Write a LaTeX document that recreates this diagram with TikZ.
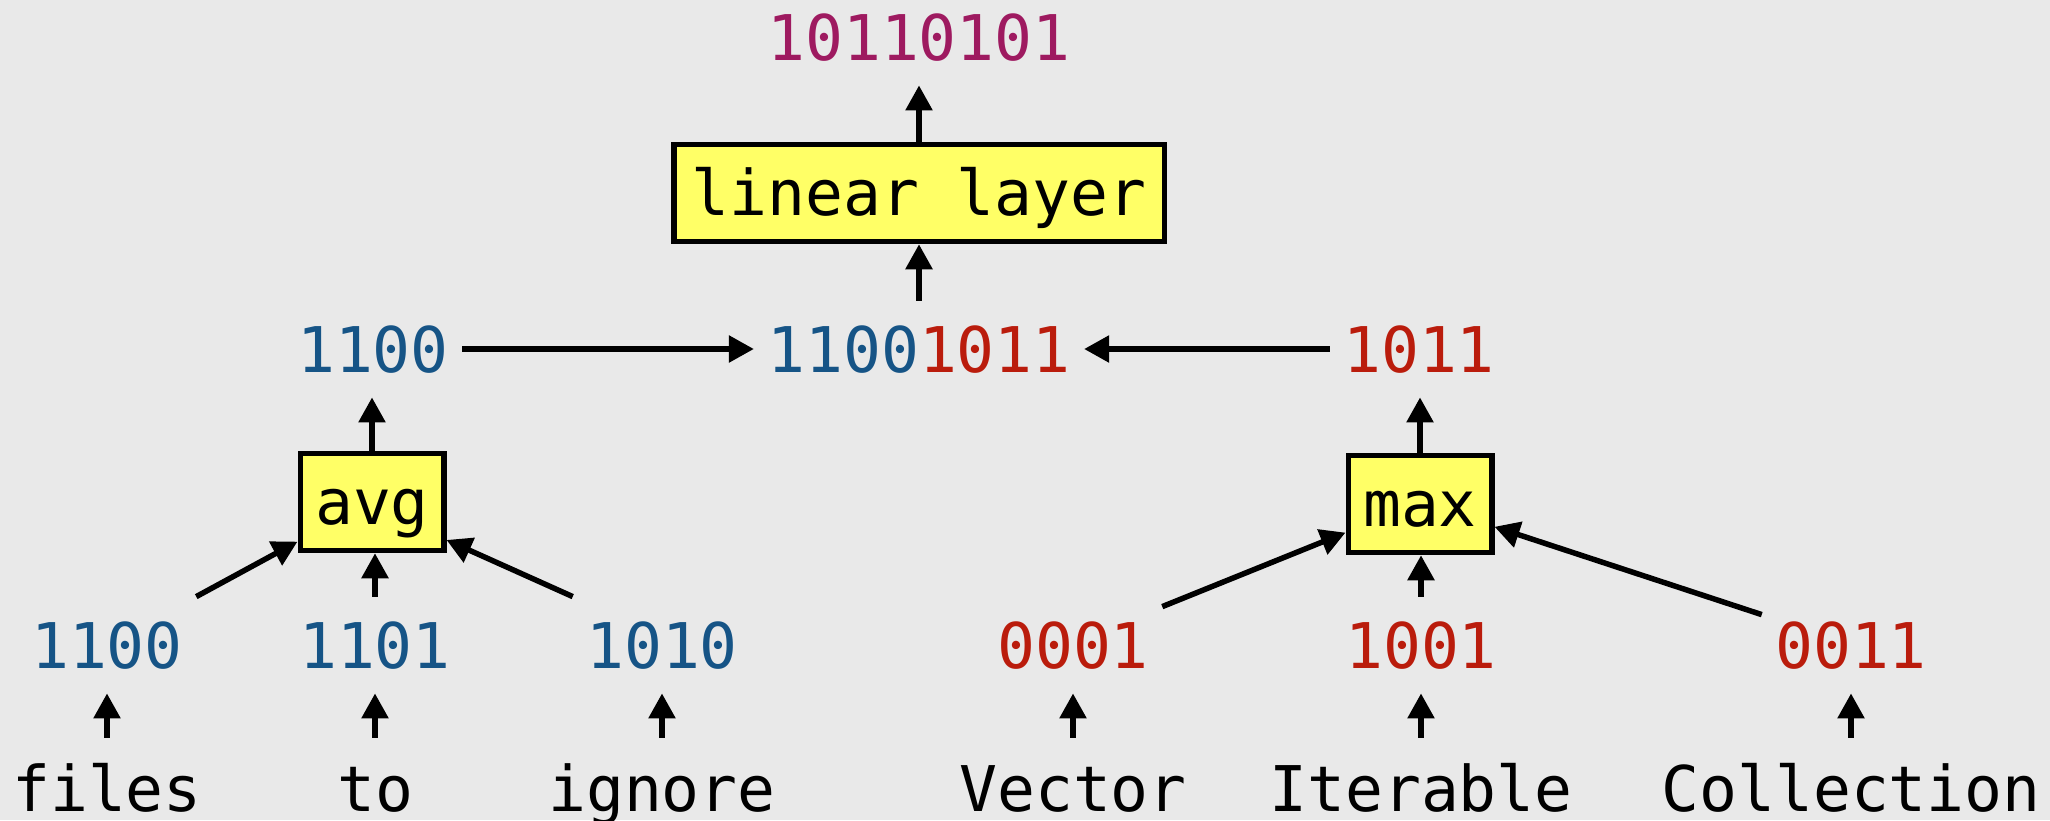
\documentclass[tikz,border=0pt]{standalone}
\usepackage{fontspec}
\setmonofont{DejaVu Sans Mono}
\usetikzlibrary{arrows.meta,calc}
\definecolor{bg}{RGB}{233,233,233}
\definecolor{blu}{RGB}{22,84,134}
\definecolor{rd}{RGB}{186,28,12}
\definecolor{pur}{RGB}{158,26,96}
\definecolor{boxfill}{RGB}{255,255,102}
\tikzset{
  every node/.style={font=\ttfamily\fontsize{31.5pt}{38pt}\selectfont},
  vec/.style={anchor=base, inner xsep=6.5pt, inner ysep=12.5pt, text height=23pt, text depth=0pt},
  word/.style={anchor=base, inner xsep=6.5pt, inner ysep=12.5pt, text height=24pt, text depth=7.5pt, text=black},
  opbox/.style={draw=black, line width=2.75pt, fill=boxfill, text=black, inner sep=0pt,
                minimum height=48.5pt, text height=30pt, text depth=7.5pt},
  arr/.style={line width=2.75pt, -{Triangle[length=12.5pt,width=13pt]}}
}
\begin{document}
\begin{tikzpicture}[x=0.5pt, y=-0.5pt]
  \fill[bg] (0,0) rectangle (2050,820);
  \useasboundingbox (0,0) rectangle (2050,820);

  % output and linear layer
  \node[vec, text=pur] (out) at (919,60) {10110101};
  \node[opbox, minimum width=245.25pt] (lin) at (919,193) {linear layer};
  \node[vec] (cat) at (919,372) {{\color{blu}1100}{\color{rd}1011}};

  % pooled vectors
  \node[vec, text=blu] (lv) at (373,372) {1100};
  \node[vec, text=rd] (rv) at (1419,372) {1011};

  % pooling operations
  \node[opbox, minimum width=71.75pt] (avg) at (372,502) {avg};
  \node[opbox, minimum width=71.75pt] (mx) at (1420,504) {max};

  % token vectors
  \node[vec, text=blu] (a1) at (107,668) {1100};
  \node[vec, text=blu] (a2) at (375,668) {1101};
  \node[vec, text=blu] (a3) at (662,668) {1010};
  \node[vec, text=rd] (b1) at (1073,668) {0001};
  \node[vec, text=rd] (b2) at (1421,668) {1001};
  \node[vec, text=rd] (b3) at (1851,668) {0011};

  % tokens
  \node[word] (w1) at (107,811) {files};
  \node[word] (w2) at (375,811) {to};
  \node[word] (w3) at (662,811) {ignore};
  \node[word] (w4) at (1073,811) {Vector};
  \node[word] (w5) at (1421,811) {Iterable};
  \node[word] (w6) at (1851,811) {Collection};

  % tokens to vectors
  \draw[arr] (w1) -- (a1);
  \draw[arr] (w2) -- (a2);
  \draw[arr] (w3) -- (a3);
  \draw[arr] (w4) -- (b1);
  \draw[arr] (w5) -- (b2);
  \draw[arr] (w6) -- (b3);

  % vectors into pooling
  \draw[arr] (a1.north east) -- (avg.208);
  \draw[arr] (a2.north) -- (a2.north |- avg.south);
  \draw[arr] (a3.north west) -- (avg.-27);
  \draw[arr] ($(b1.north east)+(0,10)$) -- (mx.201);
  \draw[arr] (b2.north) -- (b2.north |- mx.south);
  \draw[arr] ($(b3.north west)+(0,18)$) -- (mx.-17);

  % pooling outputs
  \draw[arr] (avg.north) -- (avg.north |- lv.south);
  \draw[arr] (mx.north) -- (mx.north |- rv.south);

  % concatenation and linear layer
  \draw[arr] (lv) -- (cat);
  \draw[arr] (rv) -- (cat);
  \draw[arr] (cat) -- (lin);
  \draw[arr] (lin) -- (out);
\end{tikzpicture}
\end{document}
